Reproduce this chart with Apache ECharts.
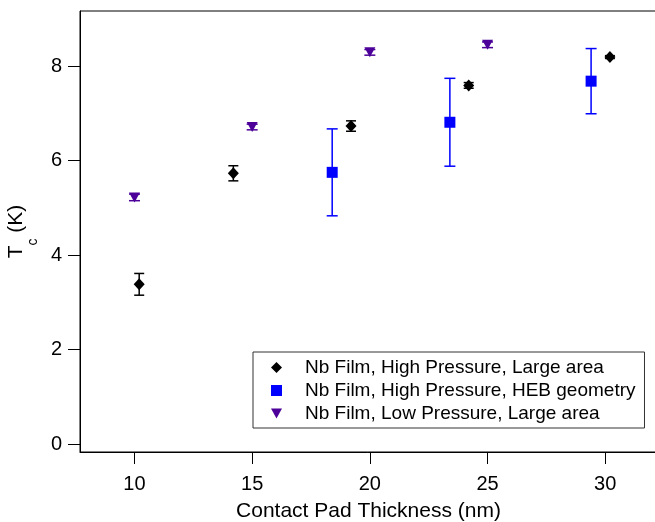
<!DOCTYPE html>
<html>
<head>
<meta charset="utf-8">
<script src="https://cdn.jsdelivr.net/npm/echarts@6/dist/echarts.min.js"></script>
<style>
  html, body { margin: 0; padding: 0; background: #fff; }
  #main { width: 655px; height: 522px; }
</style>
</head>
<body>
<div id="main"></div>
<script>
// tick positions
const xTicks = [10, 15, 20, 25, 30];
const yTicks = [0, 2, 4, 6, 8];

// Nb film, high pressure, large area
const hpLargeX = [10.2, 14.2, 19.2, 24.2, 30.2];
const hpLargeY = [3.38, 5.73, 6.73, 7.59, 8.19];
const hpLargeErr = [0.23, 0.16, 0.11, 0.06, 0.03];

// Nb film, high pressure, HEB geometry
const hebX = [18.4, 23.4, 29.4];
const hebY = [5.75, 6.81, 7.68];
const hebErr = [0.92, 0.93, 0.69];

// Nb film, low pressure, large area
const lpLargeX = [10, 15, 20, 25];
const lpLargeY = [5.22, 6.71, 8.29, 8.45];
const lpLargeErr = [0.07, 0.06, 0.06, 0.06];

const names = [
  'Nb Film, High Pressure, Large area',
  'Nb Film, High Pressure, HEB geometry',
  'Nb Film, Low Pressure, Large area'
];

const FONT = '"Liberation Sans", Arial, sans-serif';
const purple = '#4c0099';
const triDown = 'path://M0,0L10,0L5,9Z';

function pairs(xs, ys) {
  return xs.map((x, i) => [x, ys[i]]);
}

function errorBars(id, xs, ys, errs, color, capW) {
  return {
    type: 'custom',
    name: id,
    silent: true,
    z: 1,
    encode: { x: 0, y: [1, 2] },
    data: xs.map((x, i) => [x, ys[i] - errs[i], ys[i] + errs[i]]),
    renderItem: function (params, api) {
      const lo = api.coord([api.value(0), api.value(1)]);
      const hi = api.coord([api.value(0), api.value(2)]);
      const h = capW / 2;
      const st = { stroke: color, lineWidth: 1.5 };
      return {
        type: 'group',
        children: [
          { type: 'line', shape: { x1: lo[0], y1: lo[1], x2: hi[0], y2: hi[1] }, style: st },
          { type: 'line', shape: { x1: lo[0] - h, y1: lo[1], x2: lo[0] + h, y2: lo[1] }, style: st },
          { type: 'line', shape: { x1: hi[0] - h, y1: hi[1], x2: hi[0] + h, y2: hi[1] }, style: st }
        ]
      };
    }
  };
}

const chart = echarts.init(document.getElementById('main'));

const option = {
  animation: false,
  textStyle: { fontFamily: FONT },
  grid: {
    left: 80, top: 11, right: -2, bottom: 70,
    outerBoundsMode: 'none',
    containLabel: false,
    show: true, borderColor: '#000', borderWidth: 1
  },
  legend: {
    orient: 'vertical',
    left: 253, top: 352,
    padding: [6, 9, 5, 18],
    borderColor: '#333', borderWidth: 1,
    itemWidth: 11, itemHeight: 11, itemGap: 4,
    textStyle: { fontSize: 19, color: '#000', fontFamily: FONT, lineHeight: 19, padding: [0, 0, 0, 18] },
    data: names
  },
  xAxis: {
    type: 'value',
    min: 7.685, max: 32.2,
    name: 'Contact Pad Thickness (nm)',
    nameLocation: 'middle',
    nameGap: 49,
    nameTextStyle: { fontSize: 21, color: '#000', fontFamily: FONT },
    axisLine: { onZero: false, lineStyle: { color: '#000', width: 1 } },
    axisTick: { show: true, inside: false, length: 12, lineStyle: { color: '#000' }, customValues: xTicks },
    axisLabel: { fontSize: 20, color: '#000', margin: 22, customValues: xTicks },
    splitLine: { show: false }
  },
  yAxis: {
    type: 'value',
    min: -0.169, max: 9.165,
    name: '{t|T}{s|c}{t| (K)}',
    nameLocation: 'middle',
    nameGap: 36,
    nameTextStyle: {
      color: '#000', fontFamily: FONT,
      rich: {
        t: { fontSize: 21, color: '#000', fontFamily: FONT, lineHeight: 21, verticalAlign: 'top' },
        s: { fontSize: 14, color: '#000', fontFamily: FONT, lineHeight: 34, verticalAlign: 'bottom' }
      }
    },
    axisLine: { onZero: false, lineStyle: { color: '#000', width: 1 } },
    axisTick: { show: true, inside: false, length: 12, lineStyle: { color: '#000' }, customValues: yTicks },
    axisLabel: { fontSize: 20, color: '#000', margin: 18, customValues: yTicks },
    splitLine: { show: false }
  },
  series: [
    errorBars('err-hp', hpLargeX, hpLargeY, hpLargeErr, '#000', 10),
    errorBars('err-heb', hebX, hebY, hebErr, '#0000ff', 11),
    errorBars('err-lp', lpLargeX, lpLargeY, lpLargeErr, purple, 11),
    {
      type: 'scatter', name: names[0], z: 3,
      symbol: 'diamond', symbolSize: [11, 12],
      itemStyle: { color: '#000', opacity: 1 },
      data: pairs(hpLargeX, hpLargeY)
    },
    {
      type: 'scatter', name: names[1], z: 3,
      symbol: 'rect', symbolSize: 11,
      itemStyle: { color: '#0000ff', opacity: 1 },
      data: pairs(hebX, hebY)
    },
    {
      type: 'scatter', name: names[2], z: 3,
      symbol: triDown, symbolSize: [11, 10],
      itemStyle: { color: purple, opacity: 1 },
      data: pairs(lpLargeX, lpLargeY)
    }
  ]
};

chart.setOption(option);
</script>
</body>
</html>
